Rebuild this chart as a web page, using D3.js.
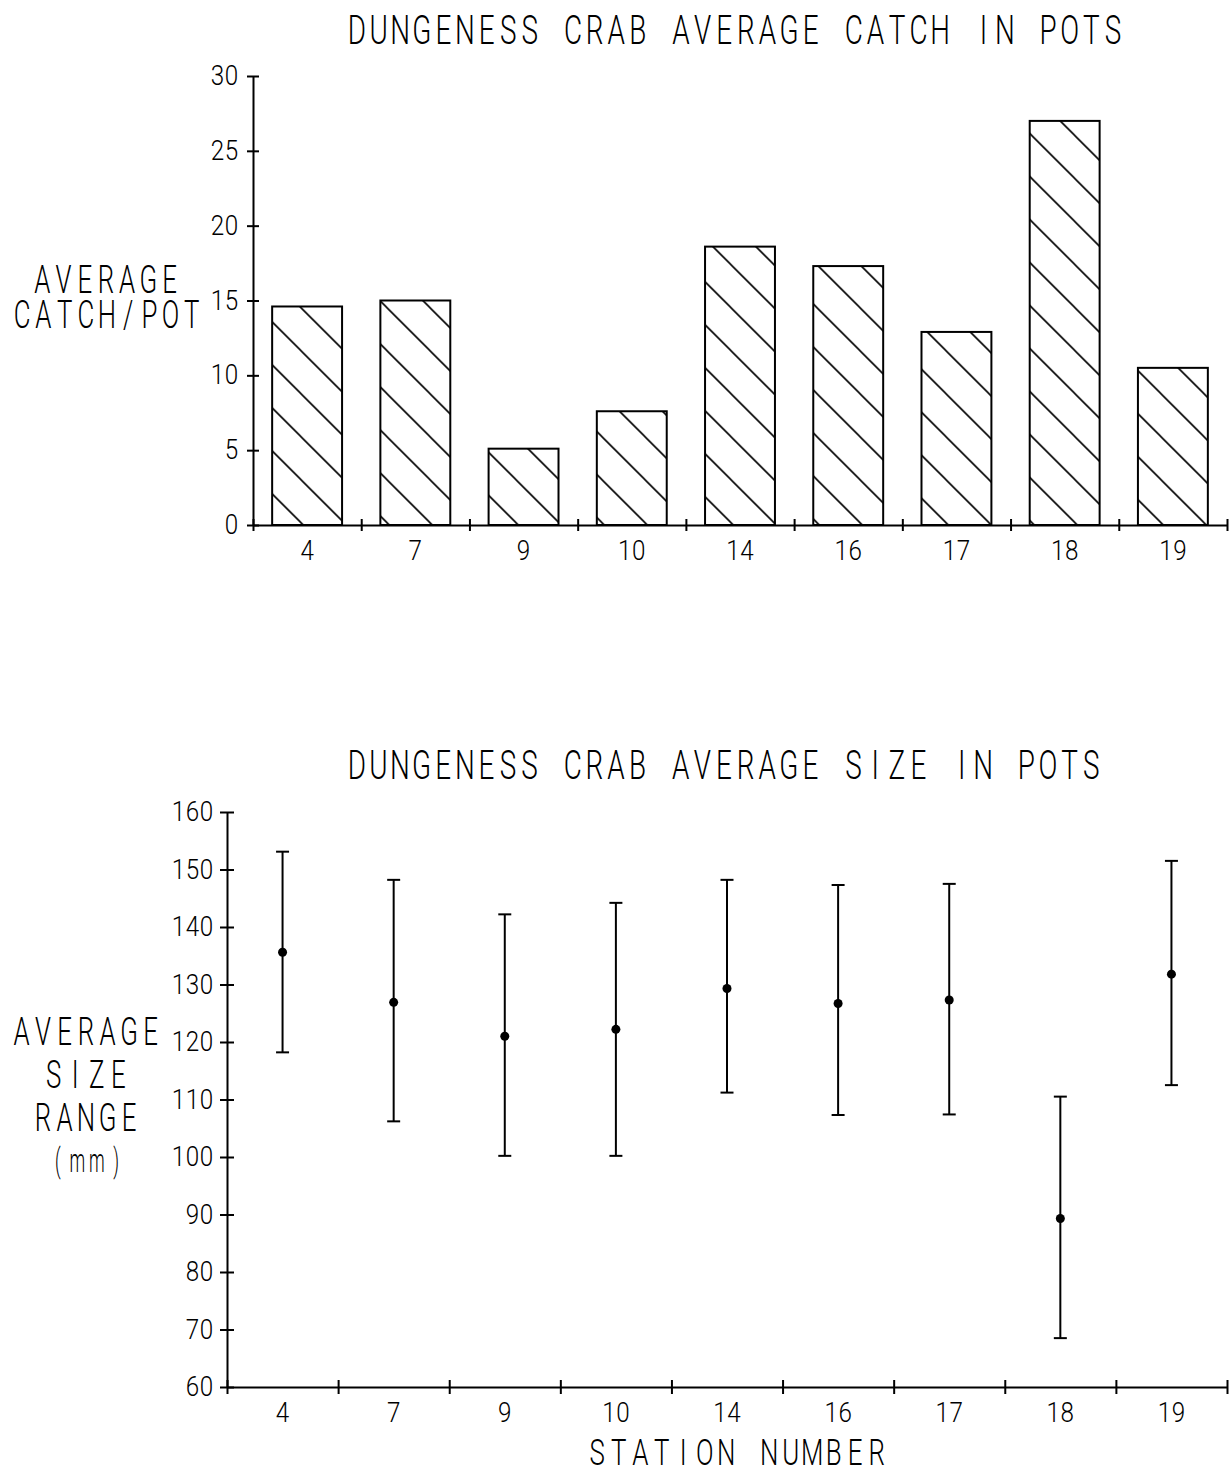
<!DOCTYPE html>
<html>
<head>
<meta charset="utf-8">
<script src="https://cdn.jsdelivr.net/npm/d3@7"></script>
<style>
  body { margin: 0; background: #fff; }
  svg { display: block; }
  .axis path, .axis line { stroke: #000; stroke-width: 2; }
</style>
</head>
<body>
<svg id="chart" width="1231" height="1474"></svg>
<script>
// station labels shared by both panels
const stations = ["4", "7", "9", "10", "14", "16", "17", "18", "19"];

// top panel: average catch per pot
const avgCatch = [14.6, 15.0, 5.1, 7.6, 18.6, 17.3, 12.9, 27.0, 10.5];
const catchTicks = [0, 5, 10, 15, 20, 25, 30];

// bottom panel: average size and range (mm)
const sizeMean = [135.6, 126.9, 121.0, 122.2, 129.3, 126.7, 127.3, 89.3, 131.8];
const sizeMax = [153.1, 148.2, 142.2, 144.2, 148.2, 147.3, 147.5, 110.5, 151.5];
const sizeMin = [118.2, 106.2, 100.2, 100.2, 111.2, 107.3, 107.4, 68.5, 112.5];
const sizeTicks = [60, 70, 80, 90, 100, 110, 120, 130, 140, 150, 160];

const svg = d3.select("#chart");
svg.append("rect").attr("width", 1231).attr("height", 1474).attr("fill", "#fff");

/**
 * Plotter-style lettering: every character on a fixed pitch, glyphs squeezed horizontally
 */
function monoText(parent, str, opt) {
    const n = str.length;
    const sx = opt.sx;
    let first;
    if (opt.cx !== undefined) first = opt.cx - (n - 1) / 2 * opt.pitch;
    else first = opt.right - (n - 1) * opt.pitch; // right = centre of last char
    const xs = d3.range(n).map(i => ((first + i * opt.pitch) / sx).toFixed(2));
    return parent.append("text")
        .attr("transform", `translate(0,${opt.y}) scale(${sx},1)`)
        .attr("x", xs.join(" "))
        .attr("y", 0)
        .attr("text-anchor", "middle")
        .attr("font-family", "Roboto, 'DejaVu Sans', sans-serif")
        .attr("font-weight", 300)
        .attr("font-size", opt.size)
        .attr("fill", "#000")
        .text(str);
}

const titleFont = { size: 41, sx: 0.68, pitch: 21.6 };
const tickFont = { size: 27.5, sx: 0.88, pitch: 14 };

// hatch pattern for the bars
const defs = svg.append("defs");
const pat = defs.append("pattern")
    .attr("id", "hatch")
    .attr("patternUnits", "userSpaceOnUse")
    .attr("width", 43).attr("height", 43)
    .attr("x", 0).attr("y", 6.7);
pat.append("path")
    .attr("d", "M0,0L43,43M-6,37L6,49M37,-6L49,6")
    .attr("stroke", "#000")
    .attr("stroke-width", 1.6)
    .attr("fill", "none");

// ---------------- top panel ----------------
const topG = svg.append("g");
const x1 = d3.scaleBand().domain(stations).range([253, 1227]).paddingInner(0.354).paddingOuter(0.177);
const x1edge = d3.scaleLinear().domain([0, stations.length]).range([253, 1227]);
const y1 = d3.scaleLinear().domain([0, 30]).range([525, 76]);

topG.selectAll("rect.bar")
    .data(stations)
    .join("rect")
    .attr("class", "bar")
    .attr("x", d => x1(d))
    .attr("width", x1.bandwidth())
    .attr("y", (d, i) => y1(avgCatch[i]))
    .attr("height", (d, i) => y1(0) - y1(avgCatch[i]))
    .attr("fill", "url(#hatch)")
    .attr("stroke", "#000")
    .attr("stroke-width", 2);

const yAxis1 = topG.append("g")
    .attr("class", "axis")
    .attr("transform", `translate(${x1edge(0)},0)`)
    .call(d3.axisLeft(y1).tickValues(catchTicks).tickSize(6).tickSizeOuter(0).tickFormat(""));
yAxis1.selectAll(".tick line").attr("x1", 6);

const xAxis1 = topG.append("g")
    .attr("class", "axis")
    .attr("transform", `translate(0,${y1(0)})`)
    .call(d3.axisBottom(x1edge).tickValues(d3.range(stations.length + 1)).tickSize(6).tickSizeOuter(0).tickFormat(""));
xAxis1.selectAll(".tick line").attr("y1", -6);

catchTicks.forEach(t => monoText(topG, String(t), { ...tickFont, right: 231.5, y: y1(t) + 9 }));
stations.forEach(s => monoText(topG, s, { ...tickFont, cx: x1(s) + x1.bandwidth() / 2, y: 560 }));

monoText(topG, "DUNGENESS CRAB AVERAGE CATCH IN POTS", { ...titleFont, cx: 735, y: 44 });
monoText(topG, "AVERAGE", { size: 38, sx: 0.68, pitch: 21.2, cx: 106, y: 293 });
monoText(topG, "CATCH/POT", { size: 38, sx: 0.68, pitch: 21.2, cx: 107, y: 328 });

// ---------------- bottom panel ----------------
const botG = svg.append("g");
const x2 = d3.scaleBand().domain(stations).range([227, 1227]);
const x2edge = d3.scaleLinear().domain([0, stations.length]).range([227, 1227]);
const y2 = d3.scaleLinear().domain([60, 160]).range([1387, 812]);

const yAxis2 = botG.append("g")
    .attr("class", "axis")
    .attr("transform", `translate(${x2edge(0)},0)`)
    .call(d3.axisLeft(y2).tickValues(sizeTicks).tickSize(7).tickSizeOuter(0).tickFormat(""));
yAxis2.selectAll(".tick line").attr("x1", 7);

const xAxis2 = botG.append("g")
    .attr("class", "axis")
    .attr("transform", `translate(0,${y2(60)})`)
    .call(d3.axisBottom(x2edge).tickValues(d3.range(stations.length + 1)).tickSize(7).tickSizeOuter(0).tickFormat(""));
xAxis2.selectAll(".tick line").attr("y1", -7);

const cxOf = s => x2(s) + x2.bandwidth() / 2;
const errG = botG.selectAll("g.err")
    .data(stations)
    .join("g")
    .attr("class", "err");
errG.append("line")
    .attr("x1", cxOf).attr("x2", cxOf)
    .attr("y1", (d, i) => y2(sizeMin[i]))
    .attr("y2", (d, i) => y2(sizeMax[i]))
    .attr("stroke", "#000").attr("stroke-width", 2);
errG.append("line")
    .attr("x1", d => cxOf(d) - 6.5).attr("x2", d => cxOf(d) + 6.5)
    .attr("y1", (d, i) => y2(sizeMax[i]))
    .attr("y2", (d, i) => y2(sizeMax[i]))
    .attr("stroke", "#000").attr("stroke-width", 2);
errG.append("line")
    .attr("x1", d => cxOf(d) - 6.5).attr("x2", d => cxOf(d) + 6.5)
    .attr("y1", (d, i) => y2(sizeMin[i]))
    .attr("y2", (d, i) => y2(sizeMin[i]))
    .attr("stroke", "#000").attr("stroke-width", 2);
errG.append("circle")
    .attr("cx", cxOf)
    .attr("cy", (d, i) => y2(sizeMean[i]))
    .attr("r", 4.5)
    .attr("fill", "#000");

sizeTicks.forEach(t => monoText(botG, String(t), { ...tickFont, right: 206.5, y: y2(t) + 9 }));
stations.forEach(s => monoText(botG, s, { ...tickFont, cx: cxOf(s), y: 1422 }));

monoText(botG, "DUNGENESS CRAB AVERAGE SIZE IN POTS", { ...titleFont, cx: 724, y: 779 });
const yl = { size: 38, sx: 0.68, pitch: 21.5 };
monoText(botG, "AVERAGE", { ...yl, cx: 86, y: 1045 });
monoText(botG, "SIZE", { ...yl, cx: 86, y: 1088 });
monoText(botG, "RANGE", { ...yl, cx: 86, y: 1131 });
monoText(botG, "(mm)", { size: 34, sx: 0.52, pitch: 19.5, cx: 87, y: 1172 });
monoText(botG, "STATION NUMBER", { size: 37, sx: 0.7, pitch: 21.5, cx: 737, y: 1465 });
</script>
</body>
</html>
